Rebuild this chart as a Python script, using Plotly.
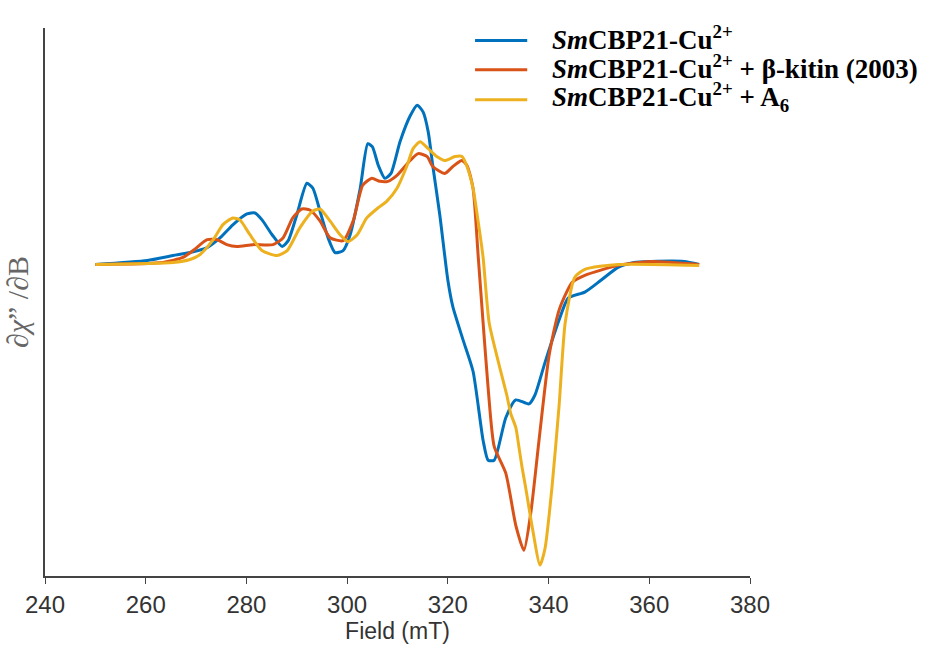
import plotly.graph_objects as go

# Field (mT) and signal (arbitrary units, baseline 0)
blue_B = [250, 260.3, 265.4, 268.8, 272.2, 274.8, 277.3, 280.1, 281.7, 283.1, 285.1, 287.1, 288.3,
          290.0, 292.0, 293.2, 294.6, 296.2, 297.6, 299.2, 300.6, 302.6, 304.1, 305.0, 306.2, 307.5,
          308.7, 310.5, 312.5, 313.9, 315.1, 316.1, 317.0, 318.4, 320.0, 321.0, 323.0, 325.0, 327.0,
          328.0, 329.2, 331.5, 333.5, 336.1, 337.3, 339.3, 342.1, 343.9, 347.2, 350.4, 353.8, 357.0,
          360.3, 366.9, 369.9]
blue_v = [0, 4, 9, 12, 17, 27, 40, 51, 52, 45, 30, 18, 24,
          50, 82, 77, 54, 27, 12, 14, 30, 77, 122, 119, 100, 87,
          92, 124, 150, 161, 154, 134, 100, 50, -16, -43, -76, -108, -178,
          -198, -198, -155, -137, -141, -132, -99, -56, -34, -28, -16, -3, 2,
          3, 3, 0]

red_B = [250, 263.4, 267.4, 269.4, 272.2, 274.2, 276.1, 278.1, 281.3, 285.3, 287.3, 289.2, 291.0,
         292.6, 294.6, 296.6, 299.2, 301.2, 303.1, 304.9, 306.5, 308.1, 309.9, 312.5, 314.1, 315.9,
         317.0, 319.4, 321.0, 322.8, 323.8, 325.0, 326.0, 327.0, 328.0, 329.2, 331.5, 333.5, 335.1,
         336.5, 338.1, 340.1, 342.1, 344.7, 347.2, 353.8, 360.3, 369.9]
red_v = [0, 2, 7, 14, 25, 25, 20, 18, 20, 20, 27, 47, 56,
         55, 44, 27, 24, 44, 80, 87, 84, 84, 90, 105, 112, 109,
         99, 92, 99, 105, 100, 77, 10, -59, -125, -184, -211, -264, -289,
         -250, -178, -92, -46, -18, -11, -1, 3, 0]

yellow_B = [250, 265.4, 268.8, 270.8, 273.4, 275.3, 277.3, 278.7, 280.7, 283.1, 286.1, 288.1, 290.6,
            293.2, 294.6, 296.6, 298.6, 300.2, 302.0, 303.9, 306.1, 307.9, 309.9, 311.9, 313.1, 314.5,
            316.1, 317.8, 319.4, 321.4, 322.8, 323.8, 325.0, 326.0, 327.0, 328.2, 330.2, 331.7, 332.5,
            333.5, 334.1, 334.7, 335.5, 336.7, 338.3, 339.3, 340.7, 342.1, 343.3, 345.2, 347.2, 353.8,
            369.9]
yellow_v = [0, 2, 5, 10, 25, 40, 47, 45, 30, 14, 9, 14, 37,
            54, 56, 44, 30, 23, 30, 47, 57, 64, 77, 100, 117, 124,
            117, 109, 105, 109, 109, 99, 77, 44, 7, -59, -102, -132, -151,
            -165, -184, -204, -227, -264, -304, -287, -224, -142, -59, -13, -5, 0,
            -1]

names = ["<b><i>Sm</i>CBP21-Cu<sup>2+</sup></b>",
         "<b><i>Sm</i>CBP21-Cu<sup>2+</sup> + β-kitin (2003)</b>",
         "<b><i>Sm</i>CBP21-Cu<sup>2+</sup> + A<sub>6</sub></b>"]
colors = ["#0072BD", "#D95319", "#EDB120"]
x_ticks = [240, 260, 280, 300, 320, 340, 360, 380]

fig = go.Figure()
for B, v, n, c in zip([blue_B, red_B, yellow_B], [blue_v, red_v, yellow_v], names, colors):
    fig.add_trace(go.Scatter(x=B, y=v, mode="lines", name=n, showlegend=False,
                             line=dict(color=c, width=3, shape="spline", smoothing=0.6)))

# legend drawn as key lines + rich-text labels (paper coordinates)
leg_rows = [0.982, 0.929, 0.874]
for n, c, yy in zip(names, colors, leg_rows):
    fig.add_shape(type="line", xref="paper", yref="paper", x0=0.610, x1=0.684, y0=yy - 0.005, y1=yy - 0.005,
                  line=dict(color=c, width=3))
    fig.add_annotation(xref="paper", yref="paper", x=0.717, y=yy, xanchor="left", yanchor="middle",
                       text=n, showarrow=False,
                       font=dict(family="Liberation Serif", size=27, color="black"))

fig.update_layout(
    width=930, height=648,
    margin=dict(l=45, r=180, t=28, b=66),
    plot_bgcolor="white", paper_bgcolor="white",
    showlegend=False,
    xaxis=dict(range=[240, 380], tickvals=x_ticks, ticks="outside", ticklen=6,
               tickcolor="#444", showline=True, linecolor="#444", linewidth=1.5,
               showgrid=False, zeroline=False,
               tickfont=dict(family="Liberation Sans", size=24, color="#333"),
               title=dict(text="Field (mT)", standoff=2,
                          font=dict(family="Liberation Sans", size=23, color="#333"))),
    yaxis=dict(range=[-315, 239], showticklabels=False, ticks="", showline=True,
               linecolor="#444", linewidth=1.5, showgrid=False, zeroline=False,
               title=dict(text="∂<i>χ</i>” /∂B", standoff=6,
                          font=dict(family="Liberation Serif", size=30, color="#666"))),
)

fig.write_html("out.html")
